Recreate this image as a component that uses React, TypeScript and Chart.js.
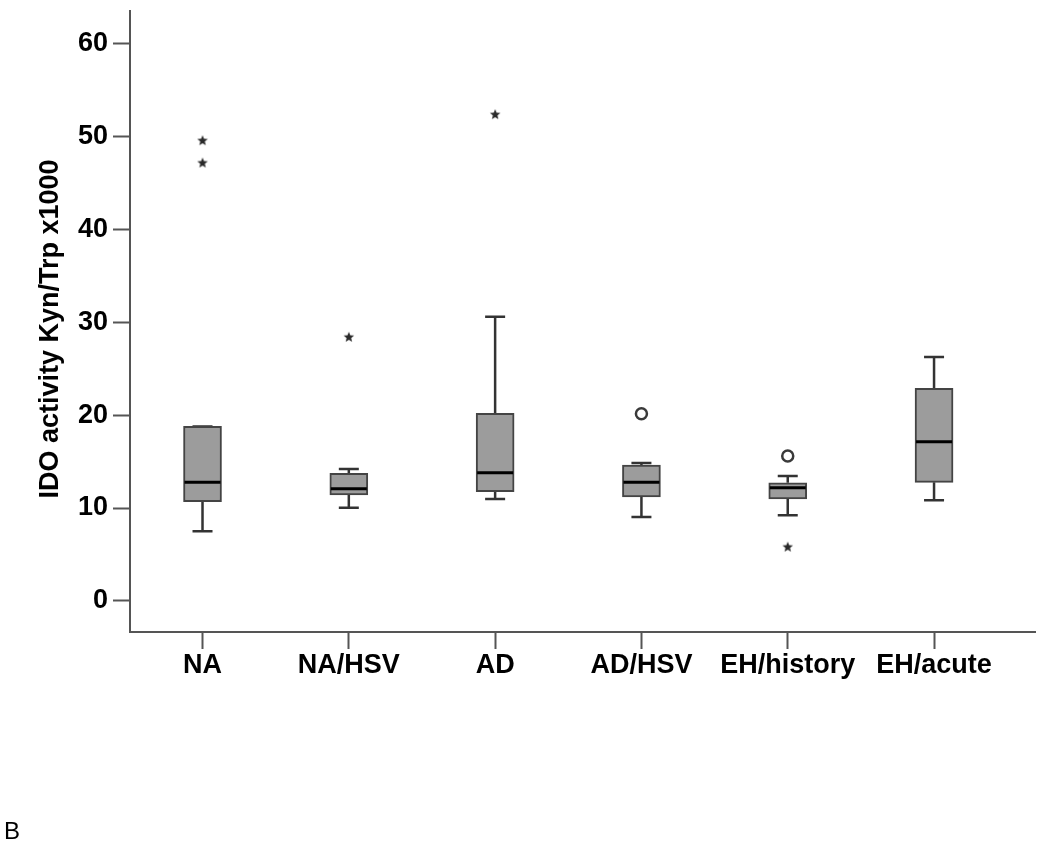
import React, { useEffect, useRef } from 'react';
import { Chart, registerables } from 'chart.js';

Chart.register(...registerables);

// ---- data ----
const categories = ['NA', 'NA/HSV', 'AD', 'AD/HSV', 'EH/history', 'EH/acute'];
const whiskerLow = [7.5, 10.04, 10.97, 9.03, 9.21, 10.83];
const q1 = [10.68, 11.4, 11.76, 11.18, 10.97, 12.76];
const median = [12.78, 12.08, 13.8, 12.76, 12.19, 17.13];
const q3 = [18.78, 13.73, 20.18, 14.62, 12.72, 22.87];
const whiskerHigh = [18.78, 14.19, 30.57, 14.84, 13.44, 26.24];

// extreme values (stars)
const extremeCategory = [0, 0, 1, 2, 4];
const extremeValue = [49.57, 47.17, 28.42, 52.37, 5.84];

// outliers (circles)
const outlierCategory = [3, 4];
const outlierValue = [20.14, 15.59];

const yTicks = [0, 10, 20, 30, 40, 50, 60];
const yTitle = 'IDO activity Kyn/Trp x1000';
const panelLabel = 'B';

const FONT = "'Liberation Sans', Arial, Helvetica, sans-serif";
const AXIS_COLOR = '#555555';
const LINE_COLOR = '#333333';

function makeStar(): HTMLCanvasElement {
  const c = document.createElement('canvas');
  c.width = 12;
  c.height = 12;
  const ctx = c.getContext('2d')!;
  ctx.fillStyle = '#2a2a2a';
  ctx.beginPath();
  const cx = 6, cy = 6.5, R = 5.5, r = 2.4;
  for (let k = 0; k < 10; k++) {
    const ang = -Math.PI / 2 + (k * Math.PI) / 5;
    const rad = k % 2 === 0 ? R : r;
    const px = cx + rad * Math.cos(ang);
    const py = cy + rad * Math.sin(ang);
    if (k === 0) ctx.moveTo(px, py);
    else ctx.lineTo(px, py);
  }
  ctx.closePath();
  ctx.fill();
  return c;
}

const boxPlotPlugin = {
  id: 'boxPlotExtras',
  beforeDatasetsDraw(chart: any) {
    const { ctx, scales } = chart;
    const xs = scales.x;
    const ys = scales.y;
    ctx.save();
    ctx.strokeStyle = LINE_COLOR;
    ctx.lineWidth = 2.5;
    const capHalf = 10;
    categories.forEach((_, i) => {
      const x = xs.getPixelForValue(i);
      const yLo = ys.getPixelForValue(whiskerLow[i]);
      const yQ1 = ys.getPixelForValue(q1[i]);
      const yQ3 = ys.getPixelForValue(q3[i]);
      const yHi = ys.getPixelForValue(whiskerHigh[i]);
      ctx.beginPath();
      ctx.moveTo(x, yQ1);
      ctx.lineTo(x, yLo);
      ctx.moveTo(x - capHalf, yLo);
      ctx.lineTo(x + capHalf, yLo);
      ctx.moveTo(x, yQ3);
      ctx.lineTo(x, yHi);
      ctx.moveTo(x - capHalf, yHi);
      ctx.lineTo(x + capHalf, yHi);
      ctx.stroke();
    });
    ctx.restore();
  },
  afterDatasetsDraw(chart: any) {
    const { ctx, scales } = chart;
    const xs = scales.x;
    const ys = scales.y;
    const meta = chart.getDatasetMeta(0);
    ctx.save();
    ctx.strokeStyle = '#000000';
    ctx.lineWidth = 3;
    categories.forEach((_, i) => {
      const el = meta.data[i];
      const half = el ? el.width / 2 : 19;
      const x = xs.getPixelForValue(i);
      const y = ys.getPixelForValue(median[i]);
      ctx.beginPath();
      ctx.moveTo(x - half + 1, y);
      ctx.lineTo(x + half - 1, y);
      ctx.stroke();
    });
    ctx.restore();
  },
  afterDraw(chart: any) {
    const { ctx } = chart;
    ctx.save();
    // y-axis title
    ctx.fillStyle = '#000000';
    ctx.font = `bold 27px ${FONT}`;
    ctx.translate(58, 329);
    ctx.rotate(-Math.PI / 2);
    ctx.textAlign = 'center';
    ctx.textBaseline = 'alphabetic';
    ctx.fillText(yTitle, 0, 0);
    ctx.restore();
    // panel label
    ctx.save();
    ctx.fillStyle = '#000000';
    ctx.font = `normal 24px ${FONT}`;
    ctx.textAlign = 'left';
    ctx.textBaseline = 'alphabetic';
    ctx.fillText(panelLabel, 4, 839);
    ctx.restore();
  },
};

export default function App() {
  const canvasRef = useRef<HTMLCanvasElement | null>(null);

  useEffect(() => {
    if (!canvasRef.current) return;
    const star = makeStar();

    const chart = new Chart(canvasRef.current, {
      type: 'bar',
      data: {
        datasets: [
          {
            type: 'bar',
            data: categories.map((_, i) => ({ x: i, y: [q1[i], q3[i]] })) as any,
            backgroundColor: '#9c9c9c',
            borderColor: '#444444',
            borderWidth: 2,
            borderSkipped: false,
            barThickness: 38,
            order: 2,
          } as any,
          {
            type: 'scatter',
            data: extremeCategory.map((c, k) => ({ x: c, y: extremeValue[k] })),
            pointStyle: star as any,
            pointRadius: 6,
            order: 1,
          } as any,
          {
            type: 'scatter',
            data: outlierCategory.map((c, k) => ({ x: c, y: outlierValue[k] })),
            pointStyle: 'circle',
            pointRadius: 5.5,
            borderWidth: 2.5,
            borderColor: '#3a3a3a',
            backgroundColor: '#ffffff',
            order: 1,
          } as any,
        ],
      },
      options: {
        animation: false,
        responsive: true,
        maintainAspectRatio: false,
        layout: { padding: { top: 11, right: 15, left: 0, bottom: 0 } },
        plugins: {
          legend: { display: false },
          tooltip: { enabled: false },
        },
        scales: {
          x: {
            type: 'linear',
            min: -0.4956,
            max: 5.69,
            offset: false,
            afterBuildTicks: (scale: any) => {
              scale.ticks = categories.map((_, i) => ({ value: i }));
            },
            afterFit: (scale: any) => {
              scale.height = 219;
              scale.paddingLeft = 0;
              scale.paddingRight = 0;
            },
            ticks: {
              autoSkip: false,
              maxRotation: 0,
              minRotation: 0,
              padding: 0,
              color: '#000000',
              font: { family: FONT, size: 27, weight: 'bold' },
              callback: (v: any) => categories[Math.round(Number(v))] ?? '',
            },
            grid: {
              display: true,
              drawOnChartArea: false,
              drawTicks: true,
              tickLength: 17,
              tickWidth: 2,
              tickColor: AXIS_COLOR,
              offset: false,
            },
            border: { display: true, color: AXIS_COLOR, width: 2 },
          },
          y: {
            type: 'linear',
            min: -3.34,
            max: 63.47,
            afterBuildTicks: (scale: any) => {
              scale.ticks = yTicks.map((v) => ({ value: v }));
            },
            afterFit: (scale: any) => {
              scale.width = 130;
              scale.paddingTop = 0;
              scale.paddingBottom = 0;
            },
            ticks: {
              padding: 5,
              color: '#000000',
              font: { family: FONT, size: 27, weight: 'bold' },
            },
            grid: {
              display: true,
              drawOnChartArea: false,
              drawTicks: true,
              tickLength: 17,
              tickWidth: 2,
              tickColor: AXIS_COLOR,
            },
            border: { display: true, color: AXIS_COLOR, width: 2 },
          },
        },
      } as any,
      plugins: [boxPlotPlugin],
    });

    return () => {
      chart.destroy();
    };
  }, []);

  return (
    <div
      style={{
        position: 'absolute',
        left: 0,
        top: 0,
        width: 1050,
        height: 851,
        background: '#ffffff',
      }}
    >
      <canvas ref={canvasRef} />
    </div>
  );
}
